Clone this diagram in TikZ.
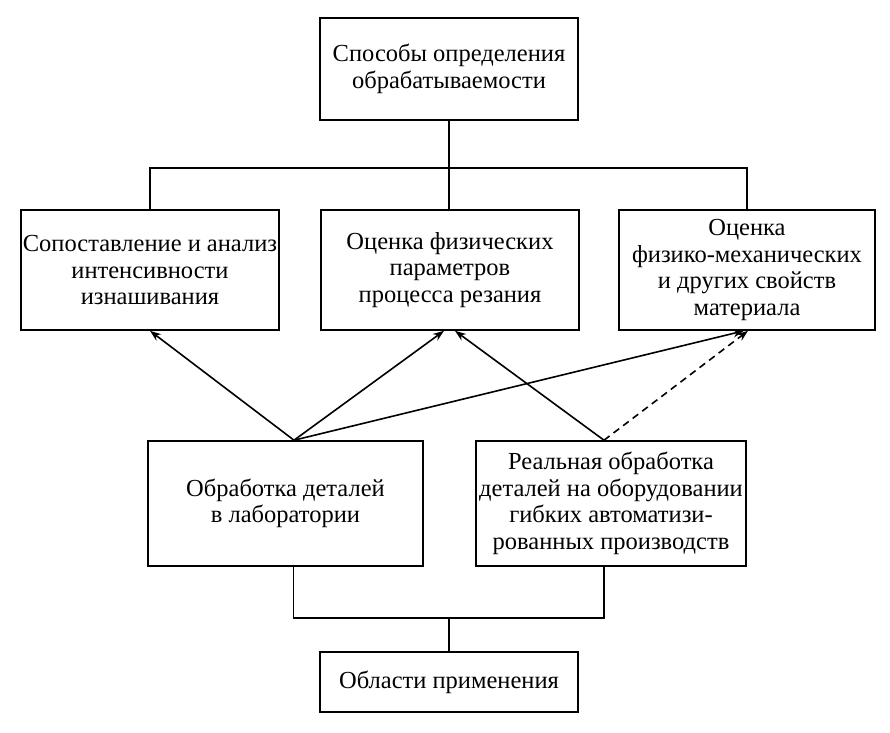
\documentclass[tikz,border=0pt]{standalone}
\usepackage{fontspec}
\setmainfont{Liberation Serif}
\usetikzlibrary{arrows.meta}
\begin{document}
\begin{tikzpicture}[x=1pt,y=-1pt,line width=1.6pt,
        box/.style={draw,align=center,inner sep=0pt,font=\fontsize{24.5}{26.5}\selectfont},
        arr/.style={-{Stealth[length=11pt,width=8pt]}}]
                \useasboundingbox (0,0) rectangle (890,732);
                \node[box,minimum width=258pt,minimum height=102pt] (top) at (449,69) {Способы определения\\обрабатываемости};
                \node[box,minimum width=258pt,minimum height=120pt] (left) at (150,270) {Сопоставление и анализ\\интенсивности\\изнашивания};
                \node[box,minimum width=258pt,minimum height=120pt] (mid) at (450,270) {Оценка физических\\параметров\\процесса резания};
                \node[box,minimum width=256pt,minimum height=120pt] (right) at (747,270) {Оценка\\физико-механических\\и других свойств\\материала};
                \node[box,minimum width=275pt,minimum height=125pt] (lab) at (285.5,503.5) {Обработка деталей\\в лаборатории};
                \node[box,minimum width=270pt,minimum height=125pt] (real) at (611,503.5) {Реальная обработка\\деталей на оборудовании\\гибких автоматизи-\\рованных производств};
                \node[box,minimum width=258pt,minimum height=60pt] (area) at (449,682) {Области применения};
                % connections
                \coordinate (bus) at (449,168);
                \coordinate (lowbus) at (449,618);
                \coordinate (labtop) at ([xshift=8.5pt]lab.north);
                \coordinate (labbot) at ([xshift=8pt]lab.south);
                \coordinate (realtop) at ([xshift=-7pt]real.north);
                \coordinate (realbot) at ([xshift=-7pt]real.south);
                \draw (top.south) -- (bus);
                \draw (left.north) |- (bus) -| (right.north);
                \draw (bus) -- (bus |- mid.north);
                \draw (labbot) |- (lowbus) -| (realbot);
                \draw (lowbus) -- (area.north);
                \draw[arr] (labtop) -- (left.south);
                \draw[arr] (labtop) -- ([xshift=-6pt]mid.south);
                \draw[arr] (labtop) -- ([xshift=-3pt]right.south);
                \draw[arr] (realtop) -- ([xshift=5pt]mid.south);
                \draw[arr,dashed,dash pattern=on 7pt off 5pt] (realtop) -- ([xshift=1pt]right.south);
            \end{tikzpicture}
\end{document}
